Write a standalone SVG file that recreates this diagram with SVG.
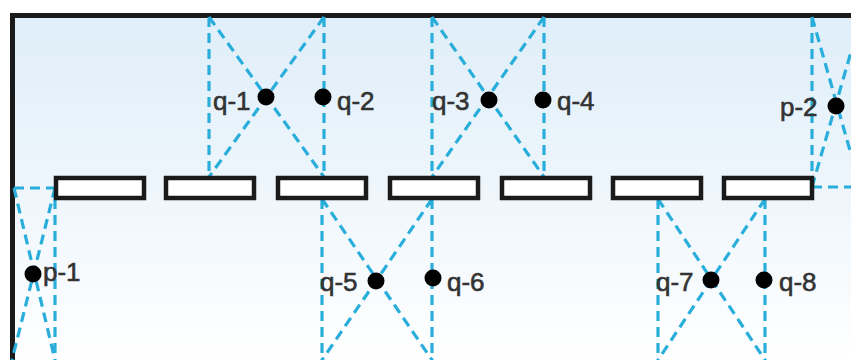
<svg xmlns="http://www.w3.org/2000/svg" width="851" height="360" viewBox="0 0 851 360">
<defs>
<linearGradient id="bg" x1="0" y1="0" x2="0" y2="1"><stop offset="0" stop-color="#dfeef9"/><stop offset="0.5" stop-color="#eef6fc"/><stop offset="1" stop-color="#ffffff"/></linearGradient>
</defs>
<style>
.w{fill:#fff;stroke:#1a1a1a;stroke-width:4.500}
.d{fill:none;stroke:#29aedb;stroke-width:3.200;stroke-dasharray:10 6}
.p{fill:#000}
.t{font-family:"Liberation Sans",Arial,sans-serif;font-size:26px;fill:#333;stroke:#333;stroke-width:.6}
</style>
<rect x="12" y="15" width="839" height="345" fill="url(#bg)"/>
<path d="M12.500 360V15.500H851" fill="none" stroke="#1a1a1a" stroke-width="5"/>
<g id="connectors" class="connectors">
<path class="d" d="M209 17V177M324 17V177M209 17L324 177M324 17L209 177"/>
<path class="d" d="M432 17V177M544 17V177M432 17L544 177M544 17L432 177"/>
<path class="d" d="M322 199V360M432 199V360M322 199L432 360M432 199L322 360"/>
<path class="d" d="M658 199V360M765 199V360M658 199L765 360M765 199L658 360"/>
<path class="d" d="M14 188H55M55 199V360M14 188L55 360M55 188L12 360"/>
<path class="d" d="M812 17V187M812 187H851M812 17L851 154M812 187L851 52"/>
</g>
<g id="wall-1"><rect class="w" x="56" y="178" width="88" height="20"/></g>
<g id="wall-2"><rect class="w" x="166" y="178" width="88" height="20"/></g>
<g id="wall-3"><rect class="w" x="278" y="178" width="88" height="20"/></g>
<g id="wall-4"><rect class="w" x="390" y="178" width="88" height="20"/></g>
<g id="wall-5"><rect class="w" x="502" y="178" width="88" height="20"/></g>
<g id="wall-6"><rect class="w" x="613" y="178" width="88" height="20"/></g>
<g id="wall-7"><rect class="w" x="724" y="178" width="88" height="20"/></g>
<g id="q-1"><circle class="p" cx="266" cy="97" r="8.500"/><text class="t" x="213" y="110">q-1</text></g>
<g id="q-2"><circle class="p" cx="323" cy="97" r="8.500"/><text class="t" x="337" y="110">q-2</text></g>
<g id="q-3"><circle class="p" cx="489" cy="100" r="8.500"/><text class="t" x="432" y="110">q-3</text></g>
<g id="q-4"><circle class="p" cx="543" cy="100" r="8.500"/><text class="t" x="557" y="110">q-4</text></g>
<g id="p-2"><circle class="p" cx="836" cy="106" r="8.500"/><text class="t" x="780" y="116">p-2</text></g>
<g id="p-1"><circle class="p" cx="33" cy="274" r="8.500"/><text class="t" x="43" y="281">p-1</text></g>
<g id="q-5"><circle class="p" cx="376" cy="281" r="8.500"/><text class="t" x="320" y="291">q-5</text></g>
<g id="q-6"><circle class="p" cx="433" cy="278" r="8.500"/><text class="t" x="447" y="291">q-6</text></g>
<g id="q-7"><circle class="p" cx="711" cy="280" r="8.500"/><text class="t" x="656" y="291">q-7</text></g>
<g id="q-8"><circle class="p" cx="764" cy="280" r="8.500"/><text class="t" x="779" y="291">q-8</text></g>
</svg>
